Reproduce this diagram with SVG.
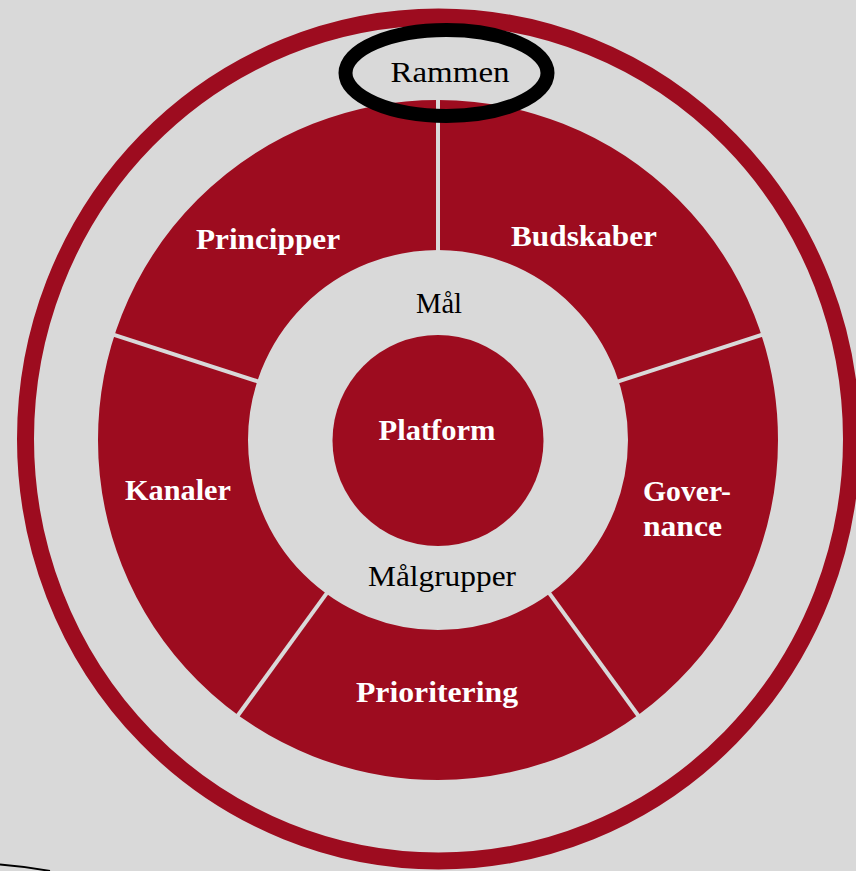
<svg xmlns="http://www.w3.org/2000/svg" width="856" height="871" viewBox="0 0 856 871">
<style>
.lbl{font-family:"Liberation Serif","Times New Roman",serif;text-anchor:middle}
.w{fill:#ffffff;font-weight:bold;font-size:29px}
.k{fill:#000000;font-size:29px}
.sep{stroke:#d9d9d9;stroke-width:4}
</style>
<rect width="856" height="871" fill="#d9d9d9"/>
<g id="frame-ring">
<ellipse cx="438.5" cy="439" rx="413" ry="422" fill="none" stroke="#9d0c1f" stroke-width="17"/>
</g>
<g id="donut">
<circle cx="438" cy="440" r="265" fill="none" stroke="#9d0c1f" stroke-width="150"/>
</g>
<g id="connectors">
<line class="sep" x1="438" y1="252" x2="438" y2="96"/>
<line class="sep" x1="616.8" y1="381.9" x2="765" y2="333.8"/>
<line class="sep" x1="259.2" y1="381.9" x2="111" y2="333.8"/>
<line class="sep" x1="548.5" y1="592.1" x2="640" y2="718"/>
<line class="sep" x1="327.5" y1="592.1" x2="236" y2="718"/>
</g>
<g id="principper"><text class="lbl w" x="268" y="249" textLength="144" lengthAdjust="spacingAndGlyphs">Principper</text></g>
<g id="budskaber"><text class="lbl w" x="584" y="246" textLength="146" lengthAdjust="spacingAndGlyphs">Budskaber</text></g>
<g id="governance"><text class="lbl w" x="687" y="501" textLength="88" lengthAdjust="spacingAndGlyphs">Gover-</text><text class="lbl w" x="682.5" y="536" textLength="79" lengthAdjust="spacingAndGlyphs">nance</text></g>
<g id="prioritering"><text class="lbl w" x="437" y="702" textLength="162" lengthAdjust="spacingAndGlyphs">Prioritering</text></g>
<g id="kanaler"><text class="lbl w" x="178" y="500" textLength="106" lengthAdjust="spacingAndGlyphs">Kanaler</text></g>
<g id="maal"><text class="lbl k" x="439" y="313" textLength="46" lengthAdjust="spacingAndGlyphs">Mål</text></g>
<g id="maalgrupper"><text class="lbl k" x="442" y="586" textLength="148" lengthAdjust="spacingAndGlyphs">Målgrupper</text></g>
<g id="platform">
<circle cx="438" cy="440.5" r="105.5" fill="#9d0c1f"/>
<text class="lbl w" x="437" y="440" textLength="117" lengthAdjust="spacingAndGlyphs">Platform</text>
</g>
<g id="rammen">
<ellipse cx="446.5" cy="73" rx="101" ry="43" fill="none" stroke="#000000" stroke-width="14"/>
<text class="lbl k" x="450" y="82" textLength="119" lengthAdjust="spacingAndGlyphs">Rammen</text>
</g>
<path d="M0,864.5 Q25,866.5 50,871" fill="none" stroke="#000000" stroke-width="2"/>
</svg>
